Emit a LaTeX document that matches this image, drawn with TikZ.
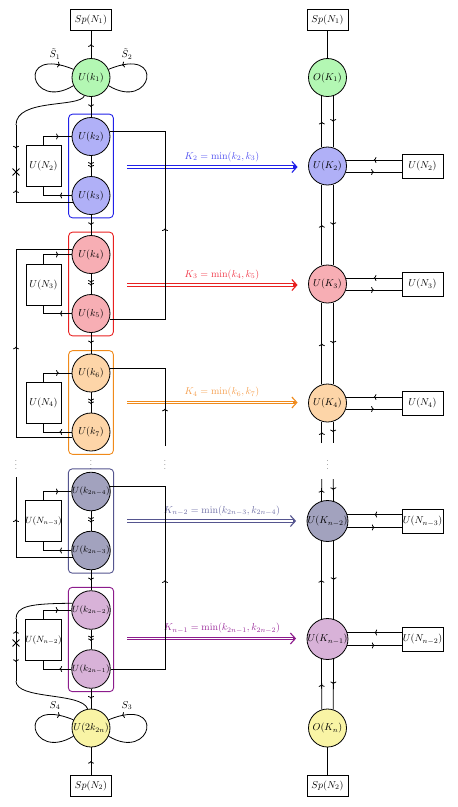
\documentclass[tikz,border=0pt]{standalone}
\usetikzlibrary{arrows.meta,decorations.markings,fit,calc,shapes.misc}
\definecolor{fgreen}{HTML}{B3F7B3}
\definecolor{fblue}{HTML}{B0B0F7}
\definecolor{fred}{HTML}{F7AEB4}
\definecolor{forange}{HTML}{FDD5A8}
\definecolor{fslate}{HTML}{A2A2BE}
\definecolor{fpurple}{HTML}{D8B2D8}
\definecolor{fyellow}{HTML}{F9F4A5}
\definecolor{cblue}{HTML}{2020E8}
\definecolor{cred}{HTML}{E82020}
\definecolor{corange}{HTML}{F08A1A}
\definecolor{cslate}{HTML}{55558F}
\definecolor{cpurple}{HTML}{8C1C8C}
\definecolor{lblue}{HTML}{5050F0}
\definecolor{lred}{HTML}{F03848}
\definecolor{lorange}{HTML}{F5A050}
\definecolor{lslate}{HTML}{6E6EA5}
\definecolor{lpurple}{HTML}{9A2A9A}
\begin{document}
\begin{tikzpicture}[x=1pt,y=-1pt,line width=0.8pt,
  circ/.style={circle,draw,minimum size=38pt,inner sep=0pt},
  sqbox/.style={draw,minimum width=41pt,minimum height=21pt,inner sep=1pt},
  nbox/.style={draw,minimum width=35pt,minimum height=41pt,inner sep=0pt},
  rbox/.style={draw,minimum width=41pt,minimum height=24pt,inner sep=0pt},
  grp/.style={draw,rounded corners=4pt,inner sep=3pt,line width=0.9pt},
  ma/.style={postaction={decorate},decoration={markings,mark=at position #1 with {\arrow{To[length=2.6pt,width=6pt]}}}},
  ma/.default=0.5,
  mma/.style={postaction={decorate},decoration={markings,
     mark=at position 0.44 with {\arrow{To[length=2.6pt,width=6pt]}},
     mark=at position 0.58 with {\arrow{To[length=2.6pt,width=6pt]}}}},
  big/.style={double=white,double distance=1.5pt,line width=0.9pt,shorten >=13pt},
  bigtip/.style={line width=1.1pt,-{Straight Barb[length=5pt,width=11pt]},shorten >=10.5pt,shorten <=166pt},
  lab/.style={inner sep=1pt},
  dts/.style={inner sep=0pt},
  xmark/.style={cross out,draw,minimum size=6pt,inner sep=0pt,line width=0.9pt}
]
\useasboundingbox (0,0) rectangle (458,807);
\coordinate (lx) at (16,0);
\coordinate (rx) at (165,0);

% ---------- left column nodes
\node[sqbox] (sp1) at (91,19.5) {$Sp(N_1)$};
\node[circ,fill=fgreen] (k1) at (91,77.5) {$U(k_1)$};
\node[circ,fill=fblue] (k2) at (91,136.5) {$U(k_2)$};
\node[circ,fill=fblue] (k3) at (91,195.5) {$U(k_3)$};
\node[circ,fill=fred] (k4) at (91,254.5) {$U(k_4)$};
\node[circ,fill=fred] (k5) at (91,313.5) {$U(k_5)$};
\node[circ,fill=forange] (k6) at (91,373) {$U(k_6)$};
\node[circ,fill=forange] (k7) at (91,432) {$U(k_7)$};
\node[circ,fill=fslate] (ka) at (91,491.5) {\small$U(k_{2n-4})$};
\node[circ,fill=fslate] (kb) at (91,550.5) {\small$U(k_{2n-3})$};
\node[circ,fill=fpurple] (kc) at (91,610) {\small$U(k_{2n-2})$};
\node[circ,fill=fpurple] (kd) at (91,669) {\small$U(k_{2n-1})$};
\node[circ,fill=fyellow] (kz) at (91,728) {$U(2k_{2n})$};
\node[sqbox] (sp2) at (91,785.5) {$Sp(N_2)$};

\node[grp,draw=cblue,fit=(k2)(k3)] (g1) {};
\node[grp,draw=cred,fit=(k4)(k5)] (g2) {};
\node[grp,draw=corange,fit=(k6)(k7)] (g3) {};
\node[grp,draw=cslate,fit=(ka)(kb)] (g4) {};
\node[grp,draw=cpurple,fit=(kc)(kd)] (g5) {};

\node[nbox] (n2) at (43.5,166) {$U(N_2)$};
\node[nbox] (n3) at (43.5,284.5) {$U(N_3)$};
\node[nbox] (n4) at (43.5,402.5) {$U(N_4)$};
\node[nbox] (na) at (43.5,521) {\small$U(N_{n-3})$};
\node[nbox] (nb) at (43.5,640) {\small$U(N_{n-2})$};

\node[lab] (s1) at (55,54) {$\tilde{S}_1$};
\node[lab] (s2) at (127,54) {$\tilde{S}_2$};
\node[lab] (s4) at (55,705.5) {$S_4$};
\node[lab] (s3) at (127,705.5) {$S_3$};

\node[xmark] (x1) at (16,172) {};
\node[xmark] (x2) at (16,643) {};

\node[dts] (d1) at (16,462) {\scriptsize$\vdots$};
\node[dts] (d2) at (91,462) {\scriptsize$\vdots$};
\node[dts] (d3) at (165,462) {\scriptsize$\vdots$};
\node[dts] (d4) at (327.5,462) {\scriptsize$\vdots$};

% ---------- right column nodes
\node[sqbox] (spr1) at (327.5,19.5) {$Sp(N_1)$};
\node[circ,fill=fgreen] (o1) at (327.5,77.5) {$O(K_1)$};
\node[circ,fill=fblue] (K2) at (327.5,166) {$U(K_2)$};
\node[circ,fill=fred] (K3) at (327.5,284) {$U(K_3)$};
\node[circ,fill=forange] (K4) at (327.5,403) {$U(K_4)$};
\node[circ,fill=fslate] (Ka) at (327.5,521) {$U(K_{n-2})$};
\node[circ,fill=fpurple] (Kb) at (327.5,639) {$U(K_{n-1})$};
\node[circ,fill=fyellow] (oz) at (327.5,728) {$O(K_n)$};
\node[sqbox] (spr2) at (327.5,785.5) {$Sp(N_2)$};

\node[rbox] (r2) at (422.5,166) {$U(N_2)$};
\node[rbox] (r3) at (422.5,284) {$U(N_3)$};
\node[rbox] (r4) at (422.5,403) {$U(N_4)$};
\node[rbox] (ra) at (422.5,521) {$U(N_{n-3})$};
\node[rbox] (rb) at (422.5,639) {$U(N_{n-2})$};

% ---------- coloured transfer arrows
\coordinate (a1) at (127,167);
\coordinate (a2) at (127,285);
\coordinate (a3) at (127,402.5);
\coordinate (a4) at (127,521);
\coordinate (a5) at (127,638.5);
\foreach \a/\k/\c in {a1/K2/cblue,a2/K3/cred,a3/K4/corange,a4/Ka/cslate,a5/Kb/cpurple}{
  \draw[big,draw=\c] (\a) -- (\a -| \k.west);
  \draw[bigtip,draw=\c] (\a) -- (\a -| \k.west);
}
\node[lab,text=lblue] (t1) at (222,156.5) {$K_2=\min(k_2,k_3)$};
\node[lab,text=lred] (t2) at (222,274.5) {$K_3=\min(k_4,k_5)$};
\node[lab,text=lorange] (t3) at (222,392) {$K_4=\min(k_6,k_7)$};
\node[lab,text=lslate] (t4) at (222,510.5) {$K_{n-2}=\min(k_{2n-3},k_{2n-4})$};
\node[lab,text=lpurple] (t5) at (222,628) {$K_{n-1}=\min(k_{2n-1},k_{2n-2})$};

% ---------- left column connectors
\draw[ma] (k1) -- (sp1);
\draw[ma] (k1) -- (k2);
\draw[mma] (k2) -- (k3);
\draw[ma] (k3) -- (k4);
\draw[mma] (k4) -- (k5);
\draw[ma] (k5) -- (k6);
\draw[mma] (k6) -- (k7);
\draw[mma] (ka) -- (kb);
\draw[ma] (kb) -- (kc);
\draw[mma] (kc) -- (kd);
\draw[ma] (kd) -- (kz);
\draw[ma] (sp2) -- (kz);

% self loops
\draw[ma=0.85] (k1.205) .. controls (30,112) and (15,45) .. (k1.155);
\draw[ma=0.85] (k1.-25) .. controls (152,112) and (167,45) .. (k1.25);
\draw[ma=0.85] (kz.205) .. controls (30,762.5) and (15,695.5) .. (kz.155);
\draw[ma=0.85] (kz.-25) .. controls (152,762.5) and (167,695.5) .. (kz.25);

% U(N) side boxes
\foreach \b/\u/\l in {n2/k2/k3,n3/k4/k5,n4/k6/k7,na/ka/kb,nb/kc/kd}{
  \draw[ma=0.65] (\b.north) |- (\u.west);
  \draw[ma=0.33] (\l.west) -| (\b.south);
}

% outer left lines
\coordinate (c1) at (16,125);
\draw (k1.250) .. controls (80,108) and (16,98) .. (c1);
\draw[ma] (c1) -- (x1.center);
\draw[ma=0.79] (k3.200) -| (x1.center);
\draw[ma=0.49] (k7.197) -| (k4.165 -| lx) -- (k4.165);
\coordinate (e2) at (16,477);
\draw[ma=0.69] (kb.200) -| (e2);
\coordinate (c2) at (16,619);
\coordinate (c3) at (16,681);
\draw (kc.160) .. controls (30,603.5) and (16,606) .. (c2);
\draw[ma] (x2.center) -- (c2);
\draw[ma] (x2.center) -- (c3);
\draw (c3) .. controls (16,700) and (82,692) .. (kz.100);

% outer right lines (x = 165)
\draw[ma=0.49] (k5.-17) -| (k2.15 -| rx) -- (k2.15);
\coordinate (e1) at (165,446);
\draw[ma=0.28] (e1) |- (k6.15);
\draw[ma=0.49] (kd.east) -| (ka.15 -| rx) -- (ka.15);

% ---------- right column connectors
\draw (o1) -- (spr1);
\draw (oz) -- (spr2);
\foreach \t/\b in {o1/K2,K2/K3,K3/K4,Ka/Kb}{
  \draw[ma] (\b.107) -- (\t.-107);
  \draw[ma] (\t.-73) -- (\b.73);
}
\draw[ma] (oz.107) -- (Kb.-107);
\draw[ma] (Kb.-73) -- (oz.73);
\coordinate (f1) at (K4.-107);
\coordinate (f2) at (K4.-73);
\coordinate (f3) at (f1 |- 0,443);
\coordinate (f4) at (f2 |- 0,443);
\coordinate (f5) at (f1 |- 0,479);
\coordinate (f6) at (f2 |- 0,479);
\draw[ma] (f3) -- (K4.-107);
\draw[ma] (K4.-73) -- (f4);
\draw[ma] (Ka.107) -- (f5);
\draw[ma] (f6) -- (Ka.73);
\foreach \c/\r in {K2/r2,K3/r3,K4/r4,Ka/ra,Kb/rb}{
  \draw[ma] (\c.18 -| \r.west) -- (\c.18);
  \draw[ma] (\c.-18) -- (\c.-18 -| \r.west);
}
\end{tikzpicture}
\end{document}
